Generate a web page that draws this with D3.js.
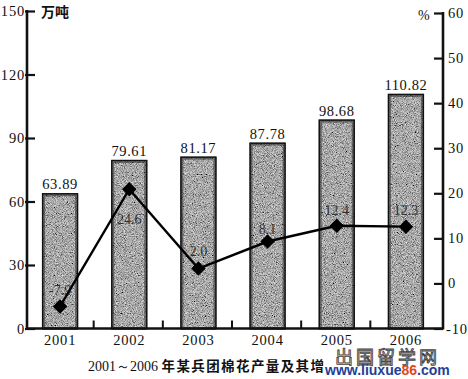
<!DOCTYPE html>
<html><head><meta charset="utf-8">
<script src="https://cdn.jsdelivr.net/npm/d3@7"></script>
<style>
html,body{margin:0;padding:0;background:#fff;}
svg{display:block;}
</style></head>
<body>
<script>
// ---- data ----
const years = ["2001","2002","2003","2004","2005","2006"];
const output = [63.89, 79.61, 81.17, 87.78, 98.68, 110.82];          // 万吨
const growthPlotted = [-5.1, 20.9, 3.3, 9.3, 12.8, 12.6];             // % (marker positions as drawn)
const growthLabels = ["-7.9", "24.6", "2.0", "8.1", "12.4", "12.3"];  // % printed
const leftTicks = [0, 30, 60, 90, 120, 150];
const rightTicks = [-10, 0, 10, 20, 30, 40, 50, 60];
const titleText = "年某兵团棉花产量及其增长速度";
const titleYears = "2001～2006";

// ---- layout ----
const W = 468, H = 379;
const labelDy = [-16, 30, -18, -13, -16, -17];
const svg = d3.select("body").append("svg").attr("width", W).attr("height", H);

const defs = svg.append("defs");
const f = defs.append("filter").attr("id","grain").attr("x",0).attr("y",0).attr("width","100%").attr("height","100%");
f.append("feTurbulence").attr("type","fractalNoise").attr("baseFrequency","1.1").attr("numOctaves",2).attr("seed",7).attr("result","n");
f.append("feColorMatrix").attr("in","n").attr("type","matrix")
  .attr("values","1.2 0 0 0 -0.21  1.2 0 0 0 -0.21  1.2 0 0 0 -0.21  0 0 0 0 1").attr("result","g");
f.append("feComposite").attr("in","g").attr("in2","SourceGraphic").attr("operator","in");

const x = d3.scaleBand().domain(years).range([25.5, 440.5]).paddingInner(0.48).paddingOuter(0.24);
const yL = d3.scaleLinear().domain([0,150]).range([328.5, 11]);
const yR = d3.scaleLinear().domain([-10,60]).range([328.5, 13]);
const axL = 27, axR = 443;

const serif = "'Liberation Serif','DejaVu Serif','Times New Roman',serif";
const cjk = "'Noto Sans CJK SC','Noto Sans CJK JP',sans-serif";

// bars
const bars = svg.append("g");
bars.selectAll("rect.fill").data(output).join("rect").attr("class","fill")
  .attr("x",(d,i)=>x(years[i])).attr("width",x.bandwidth())
  .attr("y",d=>yL(d)).attr("height",d=>yL(0)-yL(d))
  .attr("fill","#808080").attr("filter","url(#grain)");
bars.selectAll("rect.edge").data(output).join("rect").attr("class","edge")
  .attr("x",(d,i)=>x(years[i])+1.5).attr("width",x.bandwidth()-3)
  .attr("y",d=>yL(d)+1.5).attr("height",d=>yL(0)-yL(d)-1.5)
  .attr("fill","none").attr("stroke","#333").attr("stroke-width",3).attr("stroke-opacity",0.6);
bars.selectAll("rect.edge2").data(output).join("rect").attr("class","edge2")
  .attr("x",(d,i)=>x(years[i])+0.5).attr("width",x.bandwidth()-1)
  .attr("y",d=>yL(d)+0.5).attr("height",d=>yL(0)-yL(d)-0.5)
  .attr("fill","none").attr("stroke","#111").attr("stroke-width",1.4);
bars.selectAll("text").data(output).join("text")
  .attr("x",(d,i)=>x(years[i])+x.bandwidth()/2).attr("y",d=>yL(d)-4)
  .attr("text-anchor","middle").attr("font-family",serif).attr("font-size",14.5)
  .attr("letter-spacing",0.6).attr("fill","#111").text(d=>d.toFixed(2));

// left axis
const gL = svg.append("g").attr("transform",`translate(${axL},0)`)
  .call(d3.axisRight(yL).tickValues(leftTicks).tickSize(8).tickFormat(""));
gL.select(".domain").remove();
gL.selectAll(".tick line").attr("stroke","#111").attr("stroke-width",2.2).attr("x1",-2);
svg.append("line").attr("x1",axL).attr("x2",axL).attr("y1",yL(150)-1).attr("y2",yL(0)+1)
  .attr("stroke","#111").attr("stroke-width",2.6);
svg.append("g").selectAll("text").data(leftTicks).join("text")
  .attr("x",axL-2).attr("y",d=>yL(d)+5).attr("text-anchor","end")
  .attr("font-family",serif).attr("font-size",14.5).attr("letter-spacing",0.8).attr("fill","#111").text(d=>d);
svg.append("text").attr("x",41).attr("y",17).attr("font-family",cjk).attr("font-weight",700)
  .attr("font-size",14).attr("fill","#111").text("万吨");

// right axis
const gR = svg.append("g").attr("transform",`translate(${axR},0)`)
  .call(d3.axisLeft(yR).tickValues(rightTicks).tickSize(9).tickFormat(""));
gR.select(".domain").remove();
gR.selectAll(".tick line").attr("stroke","#111").attr("stroke-width",2.2);
svg.append("line").attr("x1",axR).attr("x2",axR).attr("y1",yR(60)-1).attr("y2",yR(-10)+1)
  .attr("stroke","#111").attr("stroke-width",2.6);
svg.append("g").selectAll("text").data(rightTicks).join("text")
  .attr("x",d=>d<0?446:448).attr("y",d=>yR(d)+5).attr("text-anchor","start")
  .attr("font-family",serif).attr("font-size",14.5).attr("letter-spacing",0.8).attr("fill","#111").text(d=>d);
svg.append("text").attr("x",418).attr("y",20).attr("font-family",serif)
  .attr("font-size",14).attr("fill","#111").text("%");

// x axis
svg.append("line").attr("x1",axL).attr("x2",axR).attr("y1",yL(0)).attr("y2",yL(0))
  .attr("stroke","#111").attr("stroke-width",2.6);
const gX = svg.append("g").attr("transform",`translate(0,${yL(0)})`)
  .call(d3.axisBottom(x).tickSize(0).tickPadding(6));
gX.select(".domain").remove();
gX.selectAll("text").attr("font-family",serif).attr("font-size",14.5).attr("letter-spacing",0.8).attr("fill","#111");
const step = x.step();
svg.append("g").selectAll("line").data(years.slice(1)).join("line")
  .attr("x1",d=>x(d)-step*0.24-1).attr("x2",d=>x(d)-step*0.24-1)
  .attr("y1",yL(0)).attr("y2",yL(0)-8).attr("stroke","#111").attr("stroke-width",2);

// growth line
const cx = (d,i)=>x(years[i])+x.bandwidth()/2;
svg.append("path").datum(growthPlotted)
  .attr("d", d3.line().x(cx).y(d=>yR(d)))
  .attr("fill","none").attr("stroke","#000").attr("stroke-width",2.4);
svg.append("g").selectAll("path").data(growthPlotted).join("path")
  .attr("d", d3.symbol(d3.symbolSquare, 105))
  .attr("transform",(d,i)=>`translate(${cx(d,i)},${yR(d)}) rotate(45)`)
  .attr("fill","#000");
svg.append("g").selectAll("text").data(growthLabels).join("text")
  .attr("x",(d,i)=>x(years[i])+x.bandwidth()/2)
  .attr("y",(d,i)=>yR(growthPlotted[i])+labelDy[i]+5)
  .attr("text-anchor","middle").attr("font-family",serif).attr("font-size",14)
  .attr("fill","#111").attr("fill-opacity",0.8).text(d=>d);

// title
const t = svg.append("text").attr("x",88).attr("y",371).attr("fill","#111");
t.append("tspan").attr("font-family",serif).attr("font-size",14).text(titleYears+" ");
t.append("tspan").attr("font-family",cjk).attr("font-weight",700).attr("font-size",13.5)
  .attr("letter-spacing",1.4).text(titleText);

// watermark
svg.append("rect").attr("x",324).attr("y",348).attr("width",144).attr("height",31).attr("fill","#fff");
svg.append("text").attr("x",335).attr("y",363.5).attr("font-family",cjk).attr("font-size",18)
  .attr("letter-spacing",3).attr("fill","#f2f2f2").attr("stroke","#444").attr("stroke-width",0.9).text("出国留学网");
const wm = svg.append("text").attr("x",325).attr("y",375).attr("font-family","'Liberation Sans',Arial,sans-serif")
  .attr("font-weight",700).attr("font-size",14).attr("fill","#1f3f95");
wm.append("tspan").text("www.liuxue");
wm.append("tspan").attr("fill","#e2471c").text("86");
wm.append("tspan").text(".com");
</script>
</body></html>
